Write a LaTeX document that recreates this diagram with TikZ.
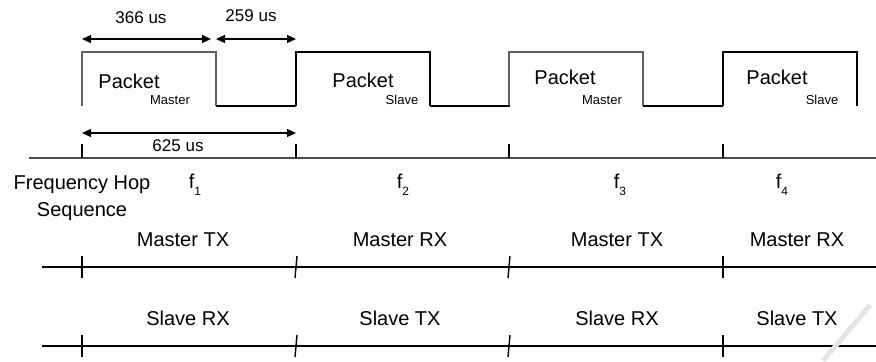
\documentclass[tikz,border=0pt]{standalone}
\usepackage{fontspec}
\setmainfont{Liberation Sans}
\usetikzlibrary{arrows.meta}

\begin{document}
\begin{tikzpicture}[x=0.5pt,y=-0.5pt,font=\fontsize{10}{12}\selectfont,
  master/.style={line width=1.2pt,gray!75!black},
  slave/.style={line width=1.2pt,black},
  lowline/.style={line width=0.6pt,black},
  dim/.style={{Triangle[length=4.5pt,width=4pt]}-{Triangle[length=4.5pt,width=4pt]},line width=0.6pt},
  dimtext/.style={font=\fontsize{8.5}{10}\selectfont},
  pkt/.style={inner sep=0pt},
  sub/.style={inner sep=0pt,font=\fontsize{6.5}{8}\selectfont},
  rowline/.style={line width=0.7pt}]
  \useasboundingbox (0,0) rectangle (876,361);
  % ---------------- packets ----------------
  \foreach \x/\kind in {82/master,296/slave,509/master,723/slave}{
    \draw[\kind] (\x,106) |- (\x+134,52) -- (\x+134,106);
  }
  \foreach \x in {216,430,643}{
    \draw[lowline] (\x,106) -- ++(80,0);
  }
  \foreach \n/\x/\y/\who/\sx in {1/129/81/Master/170,2/363/80/Slave/402,3/565/77/Master/602,4/777/77/Slave/822}{
    \node[pkt] (pkt\n) at (\x,\y) {Packet};
    \node[sub] (who\n) at (\sx,100) {\who};
  }
  % ---------------- durations ----------------
  \coordinate (d0) at (82,39);
  \coordinate (d1) at (211,39);
  \coordinate (d2) at (216,39);
  \coordinate (d3) at (296,39);
  \coordinate (e0) at (82,133);
  \coordinate (e1) at (296,133);
  \draw[dim] (d0) -- (d1);
  \draw[dim] (d2) -- (d3);
  \draw[dim] (e0) -- (e1);
  \node[dimtext] (len366) at (141,18) {366 us};
  \node[dimtext] (len259) at (251,16) {259 us};
  \node[dimtext] (len625) at (178,146) {625 us};
  % ---------------- time axis ----------------
  \coordinate (axL) at (29,158);
  \coordinate (axR) at (876,158);
  \draw[line width=0.6pt,gray!60!black] (axL) -- (axR);
  \foreach \s/\x in {0/82,1/296,2/509,3/723}{
    \coordinate (t\s) at (\x,158);
    \draw[line width=0.7pt] (t\s) -- ++(0,-14);
  }
  % ---------------- hop sequence ----------------
  \node[align=center,font=\fontsize{10}{13.5}\selectfont] (hop) at (82,198) {Frequency Hop\\Sequence};
  \foreach \i/\x in {1/195,2/403,3/620,4/782}{
    \node (f\i) at (\x,185) {f\raisebox{-0.7ex}{\fontsize{6}{7}\selectfont\i}};
  }
  % ---------------- master / slave rows ----------------
  \coordinate (mL) at (42,267);
  \coordinate (mR) at (876,267);
  \coordinate (sL) at (42,346);
  \coordinate (sR) at (876,346);
  \draw[rowline] (mL) -- (mR);
  \draw[rowline] (sL) -- (sR);
  \foreach \y/\r in {267/m,346/s}{
    \draw[rowline] (82,\y-11) -- (82,\y+11);
    \draw[rowline] (297,\y-11) -- (295,\y+11);
    \draw[rowline] (510,\y-11) -- (508,\y+11);
    \draw[rowline] (723,\y-11) -- (723,\y+11);
  }
  \foreach \n/\x/\txt in {1/183/Master TX,2/400/Master RX,3/617/Master TX,4/797/Master RX}{
    \node (mst\n) at (\x,240) {\txt};
  }
  \foreach \n/\x/\txt in {1/188/Slave RX,2/400/Slave TX,3/617/Slave RX,4/797/Slave TX}{
    \node (slv\n) at (\x,318) {\txt};
  }
  \draw[gray!20,line width=2.5pt] (823,361) -- (870,305);
\end{tikzpicture}
\end{document}
